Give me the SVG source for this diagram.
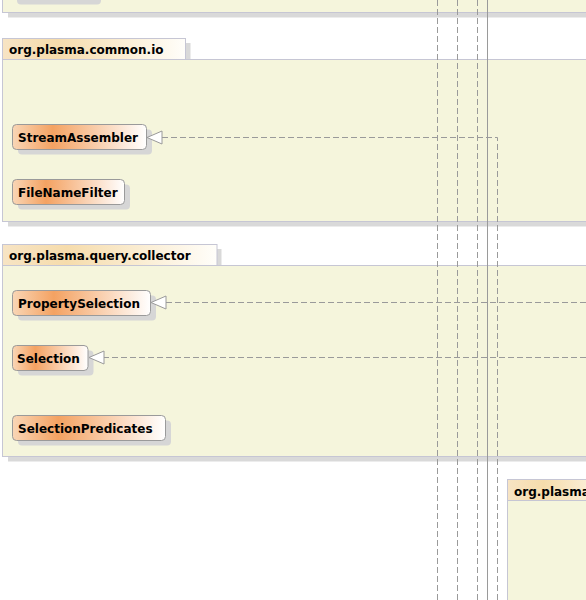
<svg xmlns="http://www.w3.org/2000/svg" width="586" height="600" viewBox="0 0 586 600">
<defs>
<linearGradient id="nodeGrad" x1="0" y1="0" x2="1" y2="0">
<stop offset="0" stop-color="#f9d6b6"/>
<stop offset="0.3" stop-color="#f4a262"/>
<stop offset="1" stop-color="#ffffff"/>
</linearGradient>
<linearGradient id="tabGrad" x1="0" y1="0" x2="1" y2="0">
<stop offset="0" stop-color="#f7e4c4"/>
<stop offset="0.3" stop-color="#f6dcac"/>
<stop offset="1" stop-color="#fffefa"/>
</linearGradient>
<style>
.pkg{fill:#f5f5dc;stroke:#c6c6d4;stroke-width:1}
.pshadow{fill:#d9d9d9}
.tab{fill:url(#tabGrad);stroke:#c6c6d4;stroke-width:1}
.node{fill:url(#nodeGrad);stroke:#9a9a9a;stroke-width:1}
.nshadow{fill:#d6d6d6}
.lbl{font-family:"DejaVu Sans",Verdana,sans-serif;font-weight:bold;font-size:12px;fill:#000}
.dash{fill:none;stroke:#9a9a9a;stroke-width:1;stroke-dasharray:6,3}
.solid{fill:none;stroke:#9a9a9a;stroke-width:1}
.tri{fill:#ffffff;stroke:#9a9a9a;stroke-width:1}
</style>
</defs>
<g id="pkg-top">
<rect class="pshadow" x="8" y="-95" width="600" height="112.5"/>
<rect class="pkg" x="2.5" y="-100" width="600" height="112.5"/>
<rect class="nshadow" x="17" y="-20" width="84" height="24.5" rx="4"/>
</g>
<g id="pkg-common-io">
<rect class="pshadow" x="8" y="64" width="600" height="162.5"/>
<rect class="pshadow" x="186" y="43" width="4.5" height="16"/>
<rect class="tab" x="2.5" y="38.5" width="183" height="21"/>
<rect class="pkg" x="2.5" y="59.5" width="600" height="162"/>
<text class="lbl" x="9" y="54">org.plasma.common.io</text>
</g>
<g id="pkg-query-collector">
<rect class="pshadow" x="8" y="270" width="600" height="191.5"/>
<rect class="pshadow" x="217" y="249" width="4.5" height="16"/>
<rect class="tab" x="2.5" y="244.5" width="214.5" height="21"/>
<rect class="pkg" x="2.5" y="265.5" width="600" height="191"/>
<text class="lbl" x="9" y="260">org.plasma.query.collector</text>
</g>
<g id="pkg-bottom-right">
<rect class="tab" x="507.5" y="479.5" width="120" height="21"/>
<rect class="pkg" x="507.5" y="500.5" width="120" height="130"/>
<text class="lbl" x="514" y="496">org.plasma</text>
</g>
<g id="node-StreamAssembler">
<rect class="nshadow" x="18" y="129.5" width="134" height="25" rx="4"/>
<rect class="node" x="12.5" y="124.5" width="134" height="25" rx="4"/>
<text class="lbl" x="18" y="141.5">StreamAssembler</text>
</g>
<g id="node-FileNameFilter">
<rect class="nshadow" x="18" y="184.5" width="112" height="25" rx="4"/>
<rect class="node" x="12.5" y="179.5" width="112" height="25" rx="4"/>
<text class="lbl" x="18" y="196.5">FileNameFilter</text>
</g>
<g id="node-PropertySelection">
<rect class="nshadow" x="18" y="295.5" width="138" height="25" rx="4"/>
<rect class="node" x="12.5" y="290.5" width="138" height="25" rx="4"/>
<text class="lbl" x="18" y="307.5">PropertySelection</text>
</g>
<g id="node-Selection">
<rect class="nshadow" x="18" y="350.5" width="75.5" height="25" rx="4"/>
<rect class="node" x="12.5" y="345.5" width="75.5" height="25" rx="4"/>
<text class="lbl" x="17" y="362.5">Selection</text>
</g>
<g id="node-SelectionPredicates">
<rect class="nshadow" x="18" y="420.5" width="153" height="25" rx="4"/>
<rect class="node" x="12.5" y="415.5" width="153" height="25" rx="4"/>
<text class="lbl" x="18" y="432.5">SelectionPredicates</text>
</g>
<g id="connectors">
<line class="dash" x1="437.5" y1="0" x2="437.5" y2="600"/>
<line class="dash" x1="457.5" y1="0" x2="457.5" y2="600"/>
<line class="dash" x1="477.5" y1="0" x2="477.5" y2="600"/>
<line class="solid" x1="487.5" y1="0" x2="487.5" y2="600"/>
<polyline class="dash" points="497.5,600 497.5,137.5 162,137.5"/>
<polygon class="tri" points="147,137.5 162,131 162,144"/>
<line class="dash" x1="586" y1="302.5" x2="166" y2="302.5"/>
<polygon class="tri" points="151,302.5 166,296 166,309"/>
<line class="dash" x1="586" y1="357.5" x2="104" y2="357.5"/>
<polygon class="tri" points="89,357.5 104,351 104,364"/>
</g>
</svg>
